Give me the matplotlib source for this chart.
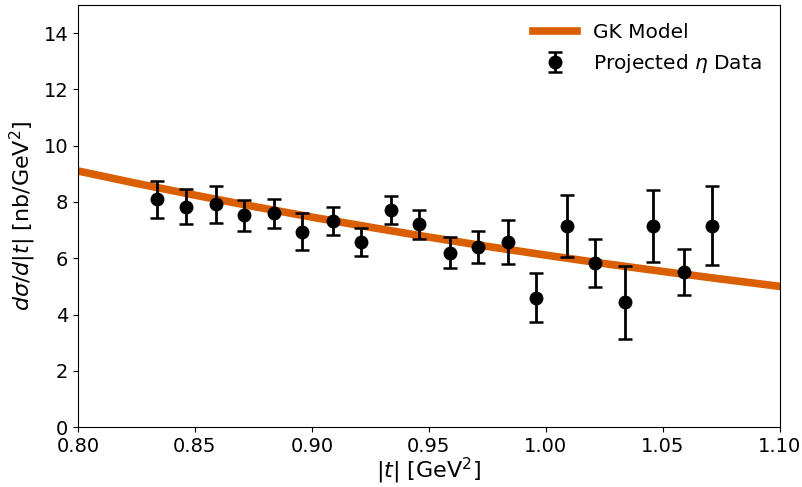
import matplotlib.pyplot as plt

# projected eta data points: |t| bin centres, cross section and errors
t_data = [0.834, 0.846, 0.859, 0.871, 0.884, 0.896, 0.909, 0.921, 0.934, 0.946,
          0.959, 0.971, 0.984, 0.996, 1.009, 1.021, 1.034, 1.046, 1.059, 1.071]
xsec = [8.10, 7.83, 7.92, 7.53, 7.60, 6.94, 7.32, 6.57, 7.71, 7.20,
        6.19, 6.40, 6.57, 4.60, 7.15, 5.84, 4.44, 7.16, 5.51, 7.16]
xsec_err = [0.66, 0.62, 0.66, 0.55, 0.52, 0.66, 0.50, 0.50, 0.50, 0.51,
            0.55, 0.56, 0.77, 0.87, 1.10, 0.86, 1.30, 1.28, 0.80, 1.39]

# GK model curve
t_model = [0.800, 0.825, 0.850, 0.875, 0.900, 0.925, 0.950,
           0.975, 1.000, 1.025, 1.050, 1.075, 1.100]
xsec_model = [9.10, 8.66, 8.24, 7.84, 7.46, 7.10, 6.75,
              6.42, 6.11, 5.81, 5.53, 5.26, 5.00]

fig, ax = plt.subplots(figsize=(8.03, 4.87), dpi=100)
fig.subplots_adjust(left=0.097, right=0.971, top=0.99, bottom=0.123)

ax.plot(t_model, xsec_model, color='#d95f02', lw=5.5, label='GK Model', zorder=1)
ax.errorbar(t_data, xsec, yerr=xsec_err, fmt='o', color='black', ms=9,
            elinewidth=2, capsize=5, capthick=1.8, label=r'Projected $\eta$ Data', zorder=2)

ax.set_xlim(0.80, 1.10)
ax.set_ylim(0, 15)
ax.set_xticks([0.80, 0.85, 0.90, 0.95, 1.00, 1.05, 1.10])
ax.set_yticks(range(0, 15, 2))
ax.tick_params(labelsize=14)
ax.set_xlabel(r'$|t|$ [GeV$^2$]', fontsize=16, labelpad=0)
ax.set_ylabel(r'$d\sigma/d|t|$ [nb/GeV$^2$]', fontsize=16)
ax.legend(fontsize=14.5, frameon=False, loc='upper right', handlelength=2.2)

fig.savefig('out.png', dpi=100)
